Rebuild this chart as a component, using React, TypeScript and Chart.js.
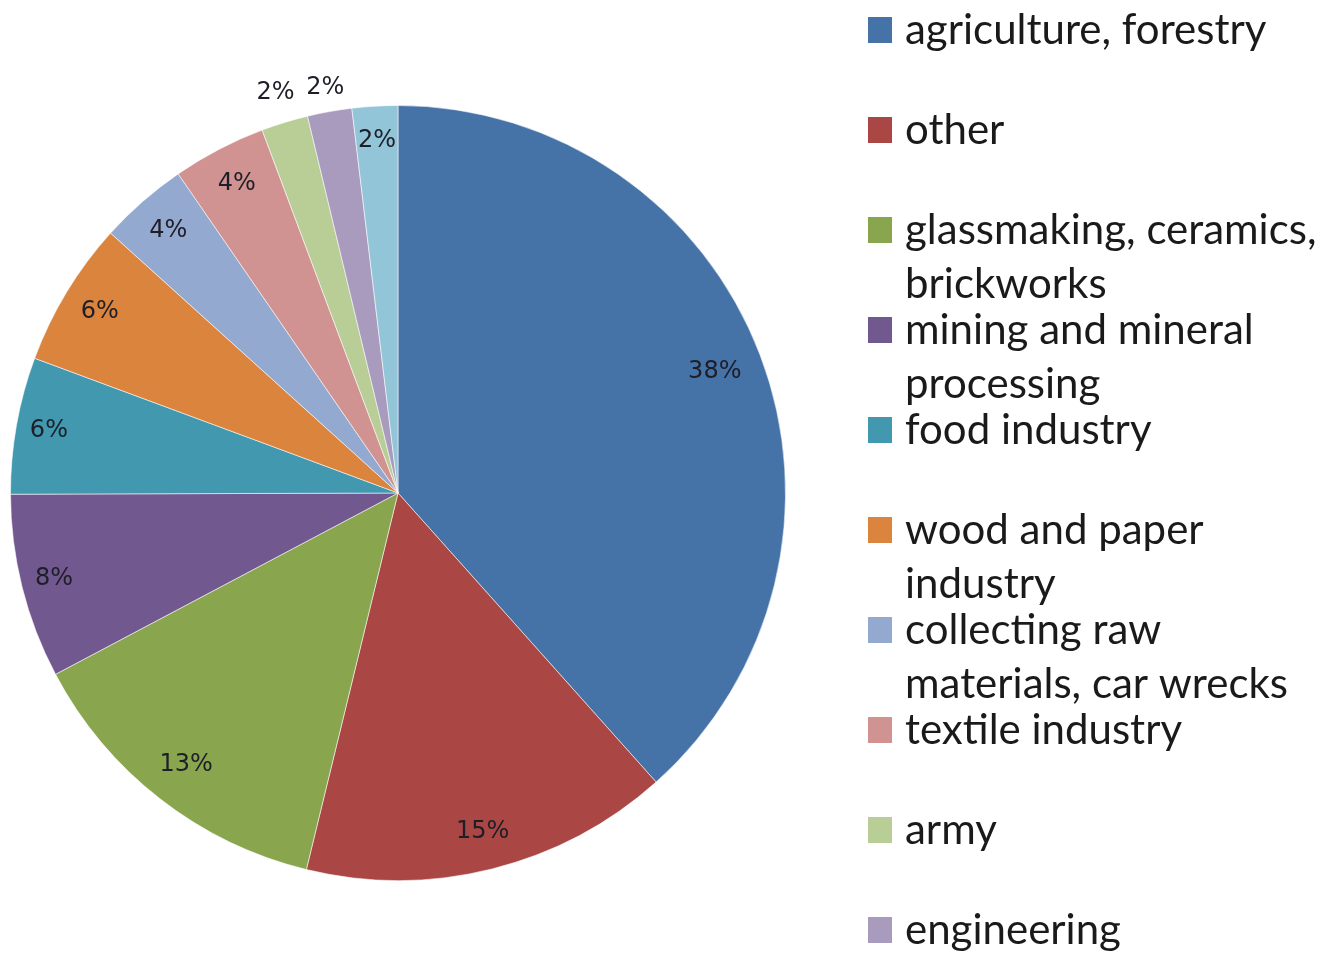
import React, { useEffect, useRef } from "react";
import { Chart, registerables } from "chart.js";

Chart.register(...registerables);

const categories = [
  "agriculture, forestry",
  "other",
  "glassmaking, ceramics, brickworks",
  "mining and mineral processing",
  "food industry",
  "wood and paper industry",
  "collecting raw materials, car wrecks",
  "textile industry",
  "army",
  "engineering",
  "other services",
];

// shares (%)
const shares = [38.4, 15.4, 13.45, 7.7, 5.7, 6.05, 3.7, 3.9, 1.95, 1.85, 1.9];

const colors = [
  "#4572A7",
  "#AA4643",
  "#89A54E",
  "#71588F",
  "#4198AF",
  "#DB843D",
  "#93A9CF",
  "#D19392",
  "#B9CD96",
  "#A99BBD",
  "#92C5D8",
];

// label distance from centre as a fraction of the outer radius
const labelRadius = [0.875, 0.9, 0.89, 0.915, 0.915, 0.9, 0.9, 0.9, 1.08, 1.062, 0.91];

const LEGEND_FONT = '42px Lato, "Open Sans", sans-serif';
const LABEL_FONT = '24px "DejaVu Sans", sans-serif';

const labelPlugin = {
  id: "sliceLabels",
  afterDatasetsDraw(chart: any) {
    const ctx = chart.ctx;
    const meta = chart.getDatasetMeta(0);
    const data = chart.data.datasets[0].data as number[];
    const total = data.reduce((a, b) => a + b, 0);
    ctx.save();
    ctx.font = LABEL_FONT;
    ctx.fillStyle = "#1e1e28";
    ctx.textAlign = "center";
    ctx.textBaseline = "middle";
    meta.data.forEach((arc: any, i: number) => {
      const p = arc.getProps(["x", "y", "startAngle", "endAngle", "outerRadius"], true);
      const mid = (p.startAngle + p.endAngle) / 2;
      const r = p.outerRadius * labelRadius[i];
      const x = p.x + Math.cos(mid) * r;
      const y = p.y + Math.sin(mid) * r;
      ctx.fillText(Math.round((data[i] / total) * 100) + "%", x, y);
    });
    ctx.restore();
  },
};

const legendPlugin = {
  id: "wrapLegend",
  afterDraw(chart: any) {
    const ctx = chart.ctx;
    const boxX = 868;
    const textX = 905;
    const maxW = 420;
    const firstY = 30;
    const itemStep = 100;
    const lineStep = 54;
    ctx.save();
    ctx.font = LEGEND_FONT;
    ctx.textBaseline = "middle";
    ctx.textAlign = "left";
    categories.forEach((label, i) => {
      const words = label.split(" ");
      const lines: string[] = [];
      let cur = "";
      words.forEach((w) => {
        const test = cur ? cur + " " + w : w;
        if (cur && ctx.measureText(test).width > maxW) {
          lines.push(cur);
          cur = w;
        } else {
          cur = test;
        }
      });
      if (cur) lines.push(cur);
      const y0 = firstY + itemStep * i;
      ctx.fillStyle = colors[i];
      ctx.fillRect(boxX, y0 - 13, 24, 26);
      ctx.fillStyle = "#1a1a1a";
      lines.forEach((ln, k) => {
        ctx.fillText(ln, textX, y0 + k * lineStep);
      });
    });
    ctx.restore();
  },
};

export default function App() {
  const ref = useRef<HTMLCanvasElement>(null);
  useEffect(() => {
    document.body.style.margin = "0";
    const chart = new Chart(ref.current as HTMLCanvasElement, {
      type: "pie",
      data: {
        labels: categories,
        datasets: [
          {
            data: shares,
            backgroundColor: colors,
            borderColor: "rgba(255,255,255,0.55)",
            borderWidth: 1,
          },
        ],
      },
      options: {
        responsive: false,
        animation: false,
        devicePixelRatio: 1,
        layout: { padding: { left: 10, top: 105, right: 533, bottom: 74 } },
        plugins: {
          legend: { display: false },
          tooltip: { enabled: false },
        },
      },
      plugins: [labelPlugin, legendPlugin],
    });
    return () => chart.destroy();
  }, []);
  return (
    <div style={{ width: 1319, height: 955, overflow: "hidden", background: "#fff" }}>
      <canvas ref={ref} width={1319} height={955} />
    </div>
  );
}
